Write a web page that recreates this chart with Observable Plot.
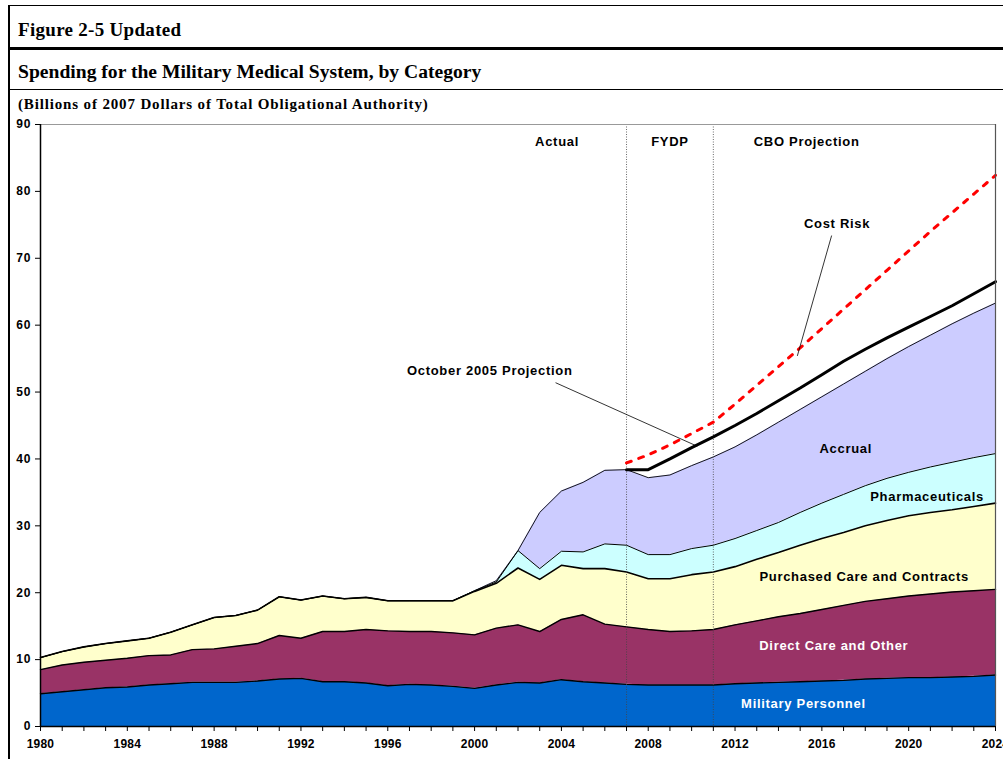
<!DOCTYPE html>
<html>
<head>
<meta charset="utf-8">
<script src="https://cdn.jsdelivr.net/npm/d3@7"></script>
<script src="https://cdn.jsdelivr.net/npm/@observablehq/plot@0.6"></script>
<style>
  html, body { margin: 0; padding: 0; background: #fff; }
  body { width: 1003px; height: 759px; overflow: hidden; position: relative; }
  .hdr { position: absolute; left: 18px; font-family: "Liberation Serif", "Times New Roman", serif; font-weight: bold; color: #000; white-space: nowrap; }
  .rule { position: absolute; left: 8px; width: 1000px; background: #000; }
  #chart { position: absolute; left: 0; top: 110px; }
  #chart svg { overflow: visible; }
  #chart svg g[aria-label="x-axis tick label"] text { letter-spacing: 0.2px; }
  #chart svg g[aria-label="y-axis tick label"] text { letter-spacing: 1px; }
  #chart svg g[aria-label="text"] text { letter-spacing: 0.7px; }
</style>
</head>
<body>
<div style="position:absolute;left:8px;top:5px;width:1100px;height:800px;border-left:2px solid #000;border-top:1px solid #000;"></div>
<div class="hdr" style="top:19px;font-size:19px;line-height:22px;letter-spacing:0.3px;">Figure 2-5 Updated</div>
<div class="rule" style="top:47px;height:3px;"></div>
<div class="hdr" style="top:61px;font-size:19.6px;line-height:22px;">Spending for the Military Medical System, by Category</div>
<div class="rule" style="top:89px;height:1px;"></div>
<div class="hdr" style="top:95px;font-size:15px;line-height:18px;letter-spacing:0.85px;">(Billions of 2007 Dollars of Total Obligational Authority)</div>
<div id="chart"></div>
<script>
// ---- Data (billions of 2007 dollars) ----
const years = [1980,1981,1982,1983,1984,1985,1986,1987,1988,1989,1990,1991,1992,1993,1994,1995,1996,1997,1998,1999,
  2000,2001,2002,2003,2004,2005,2006,2007,2008,2009,2010,2011,2012,2013,2014,2015,2016,2017,2018,2019,2020,2021,2022,2023,2024];

const militaryPersonnel = [4.9,5.2,5.5,5.8,5.9,6.2,6.4,6.6,6.6,6.6,6.8,7.1,7.2,6.7,6.7,6.5,6.1,6.3,6.2,6.0,
  5.7,6.2,6.6,6.5,7.0,6.7,6.5,6.3,6.2,6.2,6.2,6.2,6.4,6.5,6.6,6.7,6.8,6.9,7.1,7.2,7.3,7.3,7.4,7.5,7.7];
const directCare = [3.6,4.0,4.1,4.1,4.3,4.4,4.3,4.9,5.0,5.4,5.6,6.5,6.0,7.5,7.5,8.0,8.2,7.9,8.0,8.0,
  8.0,8.5,8.6,7.7,9.0,10.0,8.8,8.6,8.3,8.0,8.1,8.3,8.8,9.3,9.8,10.2,10.7,11.2,11.6,11.9,12.2,12.5,12.7,12.8,12.8];
const purchasedCare = [1.8,2.0,2.3,2.5,2.6,2.6,3.4,3.7,4.7,4.6,5.0,5.8,5.7,5.3,4.9,4.8,4.5,4.6,4.6,4.8,
  6.5,6.7,8.5,7.8,8.1,6.9,8.3,8.2,7.6,7.9,8.4,8.6,8.7,9.2,9.6,10.2,10.6,10.9,11.3,11.7,12.0,12.2,12.3,12.6,12.9];
const pharmaceuticals = [0,0,0,0,0,0,0,0,0,0,0,0,0,0,0,0,0,0,0,0,
  0.1,0.2,2.6,1.6,2.1,2.5,3.7,4.0,3.6,3.6,3.9,4.0,4.2,4.3,4.5,4.9,5.3,5.7,6.0,6.3,6.5,6.8,7.1,7.3,7.4];
const accrual = [0,0,0,0,0,0,0,0,0,0,0,0,0,0,0,0,0,0,0,0,
  0,0.2,0,8.4,9.0,10.4,11.0,11.3,11.5,11.9,12.4,13.2,13.7,14.3,15.0,15.4,15.9,16.5,17.1,17.9,18.8,19.7,20.7,21.6,22.5];

const projYears = [2007,2008,2009,2010,2011,2012,2013,2014,2015,2016,2017,2018,2019,2020,2021,2022,2023,2024];
const oct2005Projection = [38.4,38.4,40.0,41.7,43.3,45.0,46.8,48.7,50.6,52.6,54.6,56.4,58.1,59.7,61.3,62.9,64.7,66.5];
const costRisk = [39.4,40.6,42.1,43.8,45.5,48.2,51.0,53.8,56.6,59.5,62.4,65.3,68.2,71.1,74.0,76.8,79.6,82.4];

const categories = ["Military Personnel","Direct Care and Other","Purchased Care and Contracts","Pharmaceuticals","Accrual"];
const categoryColors = ["#0066CC","#993366","#FFFFCC","#CCFFFF","#CCCCFF"];

const periodBreaks = [2007, 2011];
const yTicks = [0,10,20,30,40,50,60,70,80,90];

// annotations in data coordinates
const labels = [
  {x: 2003.8, y: 87.4, text: "Actual", fill: "#000"},
  {x: 2009.0, y: 87.4, text: "FYDP", fill: "#000"},
  {x: 2015.3, y: 87.4, text: "CBO Projection", fill: "#000"},
  {x: 2016.7, y: 75.2, text: "Cost Risk", fill: "#000"},
  {x: 2000.7, y: 53.1, text: "October 2005 Projection", fill: "#000"},
  {x: 2017.1, y: 41.5, text: "Accrual", fill: "#000"},
  {x: 2020.85, y: 34.4, text: "Pharmaceuticals", fill: "#000"},
  {x: 2017.95, y: 22.4, text: "Purchased Care and Contracts", fill: "#000"},
  {x: 2016.55, y: 12.1, text: "Direct Care and Other", fill: "#fff"},
  {x: 2015.15, y: 3.4, text: "Military Personnel", fill: "#fff"}
];
const pointers = [
  {x1: 2016.45, y1: 73.4, x2: 2014.87, y2: 55.4},
  {x1: 2003.73, y1: 51.4, x2: 2010.26, y2: 41.9}
];

// ---- Build tables ----
const series = [militaryPersonnel, directCare, purchasedCare, pharmaceuticals, accrual];
const tidy = [];
years.forEach((yr, i) => categories.forEach((c, k) => tidy.push({year: yr, cat: c, value: series[k][i]})));

const tops = [];
let running = years.map(() => 0);
series.forEach((s, k) => {
  running = running.map((v, i) => v + s[i]);
  tops.push(years.map((yr, i) => ({year: yr, v: running[i]})));
});
const projData = projYears.map((yr, i) => ({year: yr, v: oct2005Projection[i]}));
const riskData = projYears.map((yr, i) => ({year: yr, v: costRisk[i]}));

const boundaryWidths = [1.4, 1.4, 1.6, 1, 0.9];

const marks = [
  Plot.areaY(tidy, {x: "year", y: "value", z: "cat", fill: "cat", curve: "linear"}),
  ...tops.map((t, k) => Plot.line(t, {x: "year", y: "v", stroke: "#000", strokeWidth: boundaryWidths[k]})),
  Plot.ruleX(periodBreaks, {stroke: "#444", strokeWidth: 0.8, strokeDasharray: "1,1.5"}),
  Plot.line(projData, {x: "year", y: "v", stroke: "#000", strokeWidth: 3}),
  Plot.line(riskData, {x: "year", y: "v", stroke: "#FF0000", strokeWidth: 3, strokeDasharray: "5,8"}),
  Plot.link(pointers, {x1: "x1", y1: "y1", x2: "x2", y2: "y2", stroke: "#000", strokeWidth: 0.8}),
  Plot.text(labels, {x: "x", y: "y", text: "text", fill: "fill", fontSize: 13, fontWeight: "bold", fontFamily: "Liberation Sans, Arial, sans-serif"}),
  Plot.ruleY([90], {stroke: "#999", strokeWidth: 1}),
  Plot.ruleX([2024], {stroke: "#555", strokeWidth: 1.2}),
  Plot.ruleY([0], {stroke: "#000", strokeWidth: 1.5}),
  Plot.ruleX([1980], {stroke: "#000", strokeWidth: 1.5}),
  Plot.axisX({ticks: years, tickSize: 5, tickPadding: 8, tickFormat: d => d % 4 === 0 ? String(d) : "", fontSize: 12, fontWeight: "bold"}),
  Plot.axisY({ticks: yTicks, tickSize: 5, tickPadding: 4, fontSize: 12, fontWeight: "bold"})
];

const chart = Plot.plot({
  width: 1003,
  height: 650,
  marginLeft: 40,
  marginRight: 8,
  marginTop: 14,
  marginBottom: 34,
  style: {fontFamily: "Liberation Sans, Arial, sans-serif", color: "#000", background: "transparent"},
  x: {domain: [1980, 2024], label: null},
  y: {domain: [0, 90], label: null},
  color: {domain: categories, range: categoryColors},
  marks
});
document.getElementById("chart").appendChild(chart);
</script>
</body>
</html>
